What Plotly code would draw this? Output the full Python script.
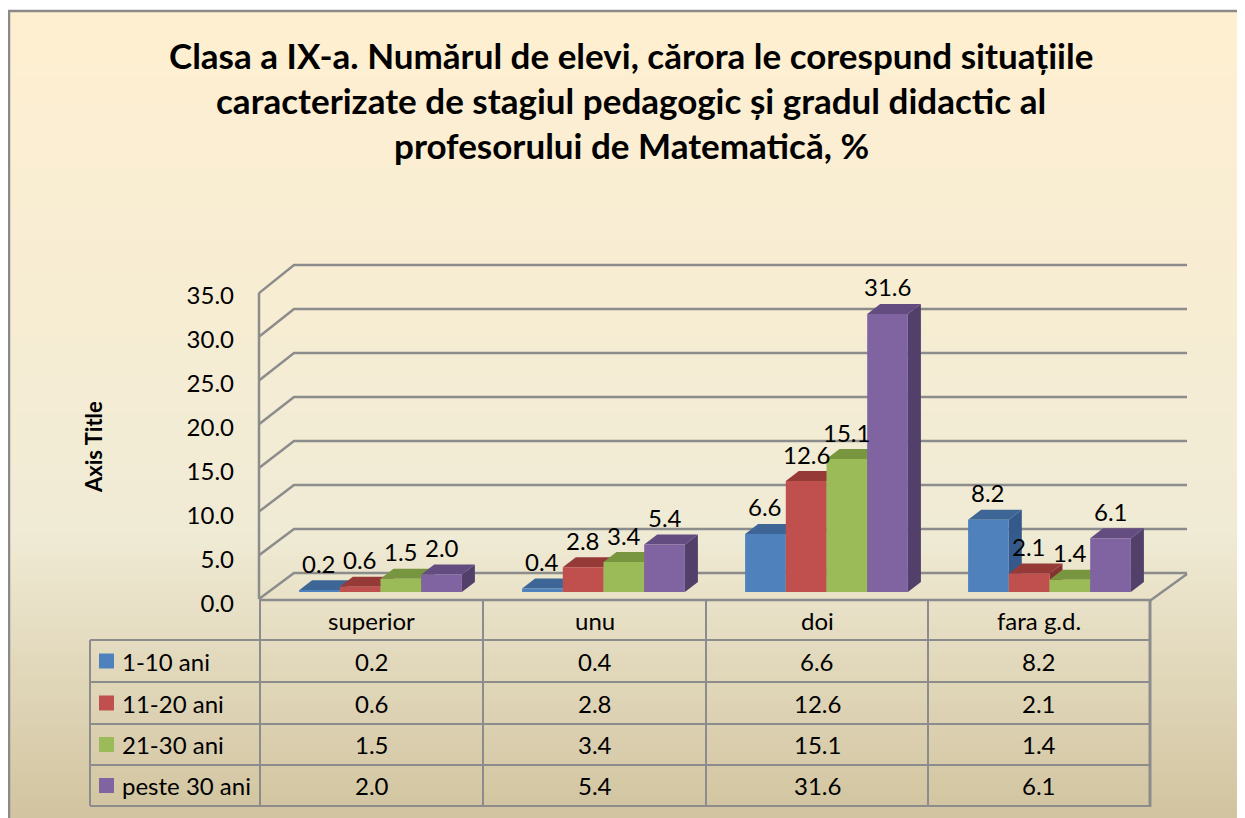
import plotly.graph_objects as go

# data
categories = ["superior", "unu", "doi", "fara g.d."]
series = ["1-10 ani", "11-20 ani", "21-30 ani", "peste 30 ani"]
v_1_10 = [0.2, 0.4, 6.6, 8.2]
v_11_20 = [0.6, 2.8, 12.6, 2.1]
v_21_30 = [1.5, 3.4, 15.1, 1.4]
v_peste_30 = [2.0, 5.4, 31.6, 6.1]
y_ticks = [0, 5, 10, 15, 20, 25, 30, 35]

title_lines = [
    "Clasa a IX-a. Numărul de elevi, cărora le corespund situațiile",
    "caracterizate de stagiul pedagogic și gradul didactic al",
    "profesorului de Matematică, %",
]

values = [v_1_10, v_11_20, v_21_30, v_peste_30]
front = ["#4F81BD", "#C0504D", "#9BBB59", "#8064A2"]
top = ["#3D6696", "#963A38", "#789540", "#634D80"]
side = ["#34598A", "#853230", "#68833A", "#523F6A"]

FONT = "Lato"
GRID = "#8C8C8C"
# the page body adds an 8px margin, so the figure starts at (8, 8) of the window
OX, OY = 8, 8
W, H = 1245 - OX, 818 - OY


def px(x):
    return (x - OX) / W


def py(y):
    return 1 - (y - OY) / H


# plot geometry (window pixels)
X0, X1 = 269, 1161
Y_BASE, Y_TOP = 592, 240
Y_MAX = 40
BARGAP = 0.27
bw = (1 - BARGAP) / len(series)
unit_px = (X1 - X0) / len(categories)
DX = 13 / unit_px
DY = 10 / ((Y_BASE - Y_TOP) / Y_MAX)

fig = go.Figure()

for k, name in enumerate(series):
    fig.add_trace(go.Bar(
        x=categories, y=values[k], name=name,
        marker=dict(color=front[k], line=dict(width=0)),
        showlegend=False, hoverinfo="skip",
    ))

shapes = []

# parchment background gradient
stops = [(0.0, (255, 239, 209)), (0.64, (240, 235, 213)), (1.0, (209, 195, 159))]


def grad(t):
    for (t0, c0), (t1, c1) in zip(stops[:-1], stops[1:]):
        if t <= t1:
            f = (t - t0) / (t1 - t0)
            return "rgb(%d,%d,%d)" % tuple(round(a + (b - a) * f) for a, b in zip(c0, c1))
    return "rgb(%d,%d,%d)" % stops[-1][1]


y = 10
step = 6
while y < 818:
    shapes.append(dict(type="rect", xref="paper", yref="paper", layer="below",
                       x0=px(8), x1=px(1245), y0=py(y), y1=py(min(y + step + 1, 818)),
                       line=dict(width=0), fillcolor=grad((y - 10) / 808)))
    y += step
shapes.append(dict(type="path", xref="paper", yref="paper", layer="below",
                   path="M %f,%f L %f,%f L %f,%f" % (px(9), py(818), px(9), py(11),
                                                   px(1245), py(11)),
                   line=dict(color="#8A8A8A", width=2.5)))

# 3d walls: gridlines on the back wall + diagonals to the front axis
FX, BX, RX = 259, 294, 1187


def fy(v):
    return 599 - 8.74 * v


def by(v):
    return 573 - 8.8 * v


def line(x0, y0, x1, y1, width=2.5):
    return dict(type="line", xref="paper", yref="paper", layer="below",
                x0=px(x0), x1=px(x1), y0=py(y0), y1=py(y1),
                line=dict(color=GRID, width=width))


for v in y_ticks:
    shapes.append(dict(type="path", xref="paper", yref="paper", layer="below",
                       path="M %f,%f L %f,%f L %f,%f" % (px(FX), py(fy(v)), px(BX), py(by(v)),
                                                       px(RX), py(by(v))),
                       line=dict(color=GRID, width=2.5)))
shapes.append(line(FX, fy(0), FX, fy(y_ticks[-1])))
shapes.append(dict(type="path", xref="paper", yref="paper", layer="below",
                   path="M %f,%f L %f,%f L %f,%f" % (px(FX), py(600), px(1151), py(600),
                                                   px(RX), py(574)),
                   line=dict(color=GRID, width=2.5)))

# top and side faces of the bars
annotations = []
for k in range(len(series)):
    off = -(1 - BARGAP) / 2 + bw * (k + 0.5)
    for i, v in enumerate(values[k]):
        xl = i + off - bw / 2
        xr = i + off + bw / 2
        shapes.append(dict(type="path", xref="x", yref="y", layer="below",
                           path="M %f,%f L %f,%f L %f,%f L %f,%f Z" % (
                               xr, 0, xr, v, xr + DX, v + DY, xr + DX, DY),
                           fillcolor=side[k], line=dict(width=0)))
        shapes.append(dict(type="path", xref="x", yref="y", layer="below",
                           path="M %f,%f L %f,%f L %f,%f L %f,%f Z" % (
                               xl, v, xr, v, xr + DX, v + DY, xl + DX, v + DY),
                           fillcolor=top[k], line=dict(width=0)))
        annotations.append(dict(x=i + off, y=v, xref="x", yref="y", text="%.1f" % v,
                                showarrow=False, yshift=27, yanchor="middle",
                                font=dict(family=FONT, size=24, color="black")))

for j, txt in enumerate(title_lines):
    annotations.append(dict(x=px(631), y=py(55 + 45 * j), xref="paper", yref="paper",
                            text="<b>%s</b>" % txt, showarrow=False,
                            xanchor="center", yanchor="middle",
                            font=dict(family=FONT, size=35, color="black")))
annotations.append(dict(x=px(93), y=py(447), xref="paper", yref="paper",
                        text="<b>Axis Title</b>", showarrow=False, textangle=-90,
                        xanchor="center", yanchor="middle",
                        font=dict(family=FONT, size=22, color="black")))

# data table under the chart
col_x = [90, 260, 483, 706, 928, 1150]
row_y = [600, 640, 682, 724, 765, 806]
for x in col_x[1:-1]:
    shapes.append(line(x, 599, x, row_y[-1], 2))
shapes.append(line(col_x[0], row_y[1], col_x[0], row_y[-1], 2))
shapes.append(line(col_x[-1], 599, col_x[-1], row_y[-1] + 1, 3))
for yy in row_y[1:]:
    shapes.append(line(col_x[0], yy, col_x[-1], yy, 2))

tfont = dict(family=FONT, size=24, color="black")
for i, cat in enumerate(categories):
    cx = (col_x[i + 1] + col_x[i + 2]) / 2
    annotations.append(dict(x=px(cx), y=py((row_y[0] + row_y[1]) / 2), xref="paper",
                            yref="paper", text=cat, showarrow=False,
                            xanchor="center", yanchor="middle", font=tfont))
for k, name in enumerate(series):
    cy = (row_y[k + 1] + row_y[k + 2]) / 2
    shapes.append(dict(type="rect", xref="paper", yref="paper", layer="above",
                       x0=px(99), x1=px(114), y0=py(cy - 7.5), y1=py(cy + 7.5),
                       fillcolor=front[k], line=dict(width=0)))
    annotations.append(dict(x=px(120), y=py(cy), xref="paper", yref="paper",
                            text=name, showarrow=False, xanchor="left",
                            yanchor="middle", font=tfont))
    for i in range(len(categories)):
        cx = (col_x[i + 1] + col_x[i + 2]) / 2
        annotations.append(dict(x=px(cx), y=py(cy), xref="paper", yref="paper",
                                text="%.1f" % values[k][i], showarrow=False,
                                xanchor="center", yanchor="middle", font=tfont))

fig.update_layout(
    width=W, height=H, autosize=False,
    margin=dict(l=0, r=0, t=0, b=0, pad=0, autoexpand=False),
    paper_bgcolor="white", plot_bgcolor="rgba(0,0,0,0)",
    showlegend=False,
    barmode="group", bargap=BARGAP, bargroupgap=0,
    shapes=shapes, annotations=annotations,
    xaxis=dict(domain=[px(X0), px(X1)], range=[-0.5, 3.5], showticklabels=False,
               showgrid=False, zeroline=False, showline=False, fixedrange=True,
               automargin=False),
    yaxis=dict(domain=[py(Y_BASE), py(Y_TOP)], range=[0, Y_MAX], tickvals=y_ticks,
               tickformat=".1f", showgrid=False, zeroline=False, showline=False,
               ticklabelshift=12, ticklabelstandoff=34, automargin=False,
               tickfont=dict(family=FONT, size=24, color="black"), fixedrange=True),
)

fig.write_html("out.html")
